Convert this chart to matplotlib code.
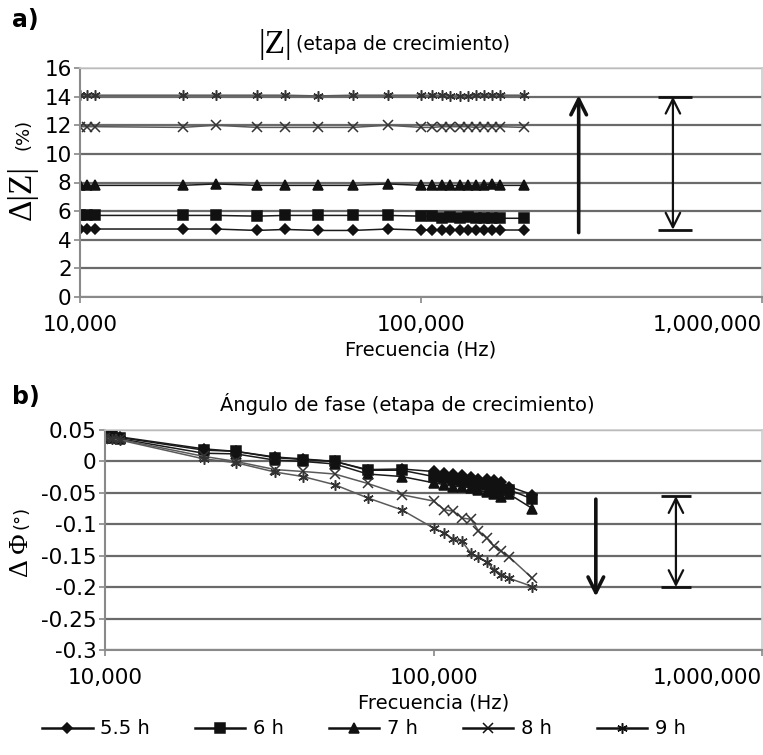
import numpy as np
import matplotlib
matplotlib.use("Agg")
import matplotlib.pyplot as plt
from matplotlib.ticker import FixedLocator, FixedFormatter, NullLocator

plt.rcParams['font.family'] = ['DejaVu Sans']

# data
freq = [10000, 10500, 11100, 20000, 25000, 33000, 40000, 50000, 63000, 80000,
        100000, 108000, 115000, 122000, 130000, 137000, 145000, 153000, 161000, 170000, 200000]

labels = ["5.5 h", "6 h", "7 h", "8 h", "9 h"]

z_55 = [4.75, 4.75, 4.75, 4.75, 4.75, 4.65, 4.72, 4.65, 4.65, 4.75, 4.68,
        4.68, 4.68, 4.68, 4.68, 4.68, 4.68, 4.68, 4.68, 4.68, 4.68]
z_6 = [5.7, 5.7, 5.7, 5.7, 5.7, 5.65, 5.7, 5.7, 5.7, 5.7, 5.65,
       5.65, 5.55, 5.6, 5.55, 5.6, 5.55, 5.5, 5.5, 5.5, 5.5]
z_7 = [7.8, 7.8, 7.8, 7.8, 7.9, 7.8, 7.8, 7.8, 7.8, 7.9, 7.8,
       7.8, 7.8, 7.8, 7.8, 7.8, 7.8, 7.85, 7.9, 7.8, 7.8]
z_8 = [11.9, 11.9, 11.9, 11.85, 12.0, 11.85, 11.85, 11.85, 11.85, 12.0, 11.85,
       11.85, 11.9, 11.9, 11.9, 11.9, 11.85, 11.9, 11.9, 11.9, 11.85]
z_9 = [14.1, 14.1, 14.1, 14.1, 14.1, 14.1, 14.1, 14.05, 14.1, 14.1, 14.1,
       14.1, 14.1, 14.05, 14.05, 14.05, 14.1, 14.1, 14.1, 14.1, 14.1]

phi_55 = [0.040, 0.040, 0.039, 0.020, 0.016, 0.007, 0.004, 0.000, -0.013, -0.012, -0.016,
          -0.018, -0.020, -0.022, -0.025, -0.028, -0.028, -0.030, -0.033, -0.040, -0.053]
phi_6 = [0.040, 0.040, 0.038, 0.018, 0.016, 0.006, 0.003, 0.000, -0.014, -0.014, -0.024,
         -0.026, -0.029, -0.031, -0.033, -0.036, -0.038, -0.042, -0.046, -0.045, -0.060]
phi_7 = [0.038, 0.038, 0.036, 0.013, 0.012, 0.002, 0.000, -0.004, -0.020, -0.024, -0.034,
         -0.037, -0.040, -0.040, -0.042, -0.046, -0.049, -0.052, -0.056, -0.052, -0.075]
phi_8 = [0.038, 0.036, 0.035, 0.008, 0.000, -0.013, -0.016, -0.020, -0.035, -0.053, -0.063,
         -0.077, -0.079, -0.090, -0.092, -0.110, -0.122, -0.135, -0.143, -0.152, -0.186]
phi_9 = [0.038, 0.035, 0.034, 0.004, -0.002, -0.017, -0.024, -0.037, -0.058, -0.077, -0.106,
         -0.114, -0.124, -0.127, -0.146, -0.152, -0.160, -0.172, -0.180, -0.186, -0.199]

x_ticks = [10000, 100000, 1000000]
x_ticklabels = ["10,000", "100,000", "1,000,000"]
z_ticks = [0, 2, 4, 6, 8, 10, 12, 14, 16]
phi_ticks = [0.05, 0, -0.05, -0.1, -0.15, -0.2, -0.25, -0.3]
phi_ticklabels = ["0.05", "0", "-0.05", "-0.1", "-0.15", "-0.2", "-0.25", "-0.3"]

# annotation arrows: (x, y_start, y_end), double arrows with end bars
arrow_a = (290000, 4.5, 14.1)
darrow_a = (548000, 14.0, 4.7, 495000, 624000)
arrow_b = (312000, -0.06, -0.215)
darrow_b = (547000, -0.055, -0.2, 492000, 607000)

markers = ['D', 's', '^', 'x', (6, 2, 0)]
line_cols = ['#1a1a1a', '#1a1a1a', '#1a1a1a', '#5a5a5a', '#5a5a5a']
mk_cols = ['#111111', '#111111', '#111111', '#333333', '#333333']
msizes = [5, 6.5, 6.5, 7, 7.5]

fig = plt.figure(figsize=(7.63, 7.55), dpi=100)
ax1 = fig.add_axes([80/763, 1-297/755, 682/763, 229/755])
ax2 = fig.add_axes([105/763, 1-650/755, 657/763, 220/755])


def style_axis(ax, yticks, ylabels):
    ax.set_xscale('log')
    ax.set_xlim(10000, 1000000)
    ax.xaxis.set_major_locator(FixedLocator(x_ticks))
    ax.xaxis.set_major_formatter(FixedFormatter(x_ticklabels))
    ax.xaxis.set_minor_locator(NullLocator())
    ax.set_yticks(yticks)
    ax.set_yticklabels(ylabels)
    ax.tick_params(axis='both', labelsize=15.5, length=4, width=1.2,
                   color='#888888', direction='out')
    ax.tick_params(axis='y', pad=2)
    ax.tick_params(axis='x', pad=9)
    ax.yaxis.grid(True, color='#6a6a6a', lw=1.6)
    ax.set_axisbelow(True)
    for s in ['left', 'bottom']:
        ax.spines[s].set_color('#8a8a8a')
        ax.spines[s].set_linewidth(1.5)
    for s in ['top', 'right']:
        ax.spines[s].set_color('#cccccc')
        ax.spines[s].set_linewidth(1.2)
    tl = ax.get_xticklabels()
    tl[-1].set_ha('right')
    tl[0].set_ha('center')
    ax.set_xlabel("Frecuencia (Hz)", fontsize=14, labelpad=4)


series_a = [z_55, z_6, z_7, z_8, z_9]
series_b = [phi_55, phi_6, phi_7, phi_8, phi_9]

for i in range(5):
    ax1.plot(freq, series_a[i], color=line_cols[i], lw=1.1, marker=markers[i],
             ms=msizes[i], mfc=mk_cols[i], mec=mk_cols[i], mew=1.1, label=labels[i])
    ax2.plot(freq, series_b[i], color=line_cols[i], lw=1.1, marker=markers[i],
             ms=msizes[i], mfc=mk_cols[i], mec=mk_cols[i], mew=1.1)

ax1.set_ylim(0, 16)
style_axis(ax1, z_ticks, [str(t) for t in z_ticks])
ax2.set_ylim(-0.3, 0.05)
style_axis(ax2, phi_ticks, phi_ticklabels)


def draw_arrows(ax, arr, darr):
    x, y0, y1 = arr
    ax.annotate("", xy=(x, y1), xytext=(x, y0),
                arrowprops=dict(arrowstyle='->', lw=2.6, color='#111111',
                                mutation_scale=28, shrinkA=0, shrinkB=0))
    x, y0, y1, xl, xr = darr
    ax.annotate("", xy=(x, y1), xytext=(x, y0),
                arrowprops=dict(arrowstyle='<->', lw=1.6, color='#111111',
                                mutation_scale=26, shrinkA=0, shrinkB=0))
    ax.hlines([y0, y1], xl, xr, color='#111111', lw=2)


draw_arrows(ax1, arrow_a, darrow_a)
draw_arrows(ax2, arrow_b, darrow_b)

# panel letters and titles
fig.text(12/763, 1-20/755, "a)", fontsize=17, fontweight='bold', va='center')
fig.text(12/763, 1-397/755, "b)", fontsize=17, fontweight='bold', va='center')

fig.text(292/763, 1-44/755, "|Z|", family='Liberation Serif', fontsize=24,
         ha='right', va='center')
fig.text(296/763, 1-44/755, "(etapa de crecimiento)", fontsize=13.5, va='center')
fig.text(407/763, 1-404/755, "Ángulo de fase (etapa de crecimiento)", fontsize=14,
         ha='center', va='center')

# y labels
fig.text(22/763, 1-193/755, "Δ|Z|", family='Liberation Serif', fontsize=24,
         rotation=90, ha='center', va='center')
fig.text(24/763, 1-134/755, "(%)", fontsize=13, rotation=90, ha='center', va='center')
fig.text(22/763, 1-555/755, "Δ Φ", family='Liberation Serif', fontsize=20,
         rotation=90, ha='center', va='center')
fig.text(22/763, 1-517/755, "(°)", fontsize=13, rotation=90, ha='center', va='center')

handles, lbls = ax1.get_legend_handles_labels()
leg = fig.legend(handles, lbls, loc='center', bbox_to_anchor=(0.477, 1-729/755),
                 ncol=5, frameon=False, fontsize=14, handlelength=2.6,
                 handletextpad=0.4, columnspacing=2.3)
for h in leg.legend_handles:
    h.set_color('#111111')
    h.set_markerfacecolor('#111111')
    h.set_markeredgecolor('#111111')
    h.set_linewidth(1.8)

fig.savefig("out.png", dpi=100)
